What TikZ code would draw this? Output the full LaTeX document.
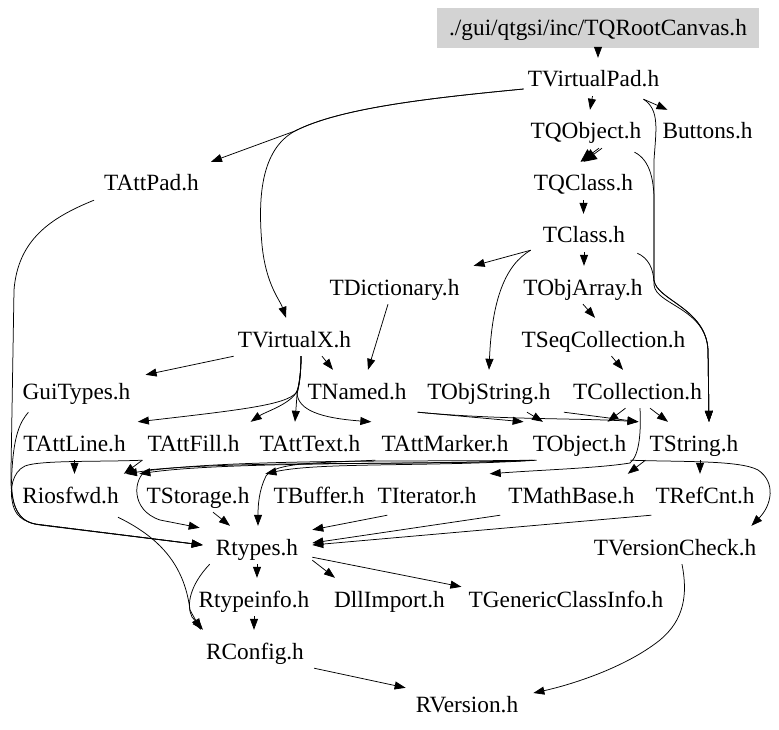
\documentclass[tikz,border=0pt]{standalone}
\usepackage{fontspec}
\setmainfont{Liberation Serif}
\usetikzlibrary{arrows.meta}
\definecolor{rootgray}{RGB}{211,211,211}
\begin{document}
\begin{tikzpicture}[x=1pt,y=-1pt,
  hf/.style={font=\fontsize{23.3}{28}\selectfont, inner xsep=4pt, inner ysep=0pt, text height=29pt, text depth=9pt, anchor=base},
  rootbox/.style={font=\fontsize{23.3}{28}\selectfont, fill=rootgray, minimum width=322pt, minimum height=40pt, inner sep=0pt, text height=16pt, text depth=0pt},
  dep/.style={draw, line width=0.75pt, -{Triangle[length=11pt,width=8pt]}},
  bigdep/.style={draw, line width=0.75pt, -{Triangle[length=13pt,width=12pt]}},
  ]
\useasboundingbox (0,0) rectangle (779,730);
\node[rootbox] (R0) at (598,28) {./gui/qtgsi/inc/TQRootCanvas.h};
\node[hf] (vp) at (593.5,87) {TVirtualPad.h};
\node[hf] (qo) at (586,139) {TQObject.h};
\node[hf] (bt) at (707.5,139) {Buttons.h};
\node[hf] (qc) at (583.5,191) {TQClass.h};
\node[hf] (ap) at (151.5,191) {TAttPad.h};
\node[hf] (cl) at (584,243) {TClass.h};
\node[hf] (dic) at (394.5,295) {TDictionary.h};
\node[hf] (oa) at (583,295) {TObjArray.h};
\node[hf] (vx) at (294.5,347) {TVirtualX.h};
\node[hf] (sc) at (603.5,347) {TSeqCollection.h};
\node[hf] (gt) at (76.5,399) {GuiTypes.h};
\node[hf] (nm) at (357,399) {TNamed.h};
\node[hf] (os) at (489,399) {TObjString.h};
\node[hf] (co) at (637.5,399) {TCollection.h};
\node[hf] (al) at (74.5,451) {TAttLine.h};
\node[hf] (af) at (193.5,451) {TAttFill.h};
\node[hf] (at) at (310,451) {TAttText.h};
\node[hf] (am) at (445,451) {TAttMarker.h};
\node[hf] (ob) at (579.5,451) {TObject.h};
\node[hf] (st) at (694,451) {TString.h};
\node[hf] (rf) at (70.5,503) {Riosfwd.h};
\node[hf] (sto) at (198,503) {TStorage.h};
\node[hf] (bu) at (319,503) {TBuffer.h};
\node[hf] (it) at (427,503) {TIterator.h};
\node[hf] (mb) at (571.5,503) {TMathBase.h};
\node[hf] (rc) at (705,503) {TRefCnt.h};
\node[hf] (rt) at (257,555) {Rtypes.h};
\node[hf] (vc) at (675,555) {TVersionCheck.h};
\node[hf] (ri) at (254,607) {Rtypeinfo.h};
\node[hf] (dl) at (389.5,607) {DllImport.h};
\node[hf] (gc) at (566,607) {TGenericClassInfo.h};
\node[hf] (rcf) at (255,659) {RConfig.h};
\node[hf] (rv) at (467,712) {RVersion.h};

% top part
\draw[dep] (R0.south) -- (R0.south |- vp.north);
\draw[dep] ([xshift=-1pt]vp.south) -- ([xshift=4pt]qo.north);
\draw[dep] ([xshift=50pt,yshift=-3pt]vp.south) -- ([xshift=-40pt]bt.north);
\draw[dep] ([yshift=-12pt]vp.west) .. controls (430,98) and (340,108) .. (295,131) -- ([xshift=8pt]ap.north east);
\draw[dep] ([yshift=-12pt]vp.west) .. controls (430,98) and (340,108) .. (295,131) .. controls (260,150) and (258,200) .. (262,245) .. controls (266,285) and (280,300) .. ([xshift=-8.5pt]vx.north);
\draw[bigdep] ([xshift=13pt]qo.south) -- ([xshift=-3pt]qc.north);
\draw[bigdep] ([xshift=16pt]qo.south) -- (qc.north);
\draw[dep] (qc.south) -- (qc.south |- cl.north);
\draw[dep] (cl.south) -- (cl.south |- oa.north);
\draw[dep] ([xshift=-8pt,yshift=2pt]cl.south west) -- ([xshift=10pt]dic.north east);
\draw[dep] ([xshift=-8pt,yshift=2pt]cl.south west) .. controls (505,265) and (492,300) .. (os.north);
\draw[dep] ([xshift=50pt,yshift=-3pt]vp.south) .. controls (660,110) and (656,130) .. (654,160) -- (654,280) .. controls (656,300) and (706,308) .. (708,350) -- ([xshift=15pt]st.north);
\draw[dep] ([xshift=-11pt,yshift=-4pt]qo.south east) .. controls (650,160) and (655,180) .. (654,210) -- (654,280) .. controls (656,300) and (706,308) .. (708,350) -- ([xshift=15pt]st.north);
\draw[dep] ([xshift=8pt,yshift=-1pt]cl.south east) .. controls (648,258) and (654,268) .. (654,285) .. controls (656,305) and (706,308) .. (708,350) -- ([xshift=15pt]st.north);
\draw[dep] (oa.south) -- ([xshift=-8.5pt]sc.north);
\draw[dep] ([xshift=8pt]sc.south) -- ([xshift=-14.5pt]co.north);
\draw[dep] ([xshift=-6.5pt]dic.south) -- ([xshift=11pt]nm.north);
\draw[dep] (vx.south west) -- ([xshift=11pt,yshift=-5pt]gt.north east);
\draw[dep] ([xshift=27.5pt]vx.south) -- ([xshift=-24pt]nm.north);
\draw[dep] ([xshift=6.5pt]vx.south) .. controls (301,375) and (299,388) .. (296,393) .. controls (285,405) and (240,410) .. ([xshift=8pt]al.north east);
\draw[dep] ([xshift=6.5pt]vx.south) .. controls (301,375) and (299,388) .. (296,393) .. controls (288,405) and (265,412) .. ([xshift=7pt]af.north east);
\draw[dep] ([xshift=6.5pt]vx.south) .. controls (301,375) and (298,388) .. (297,395) -- ([xshift=-15pt]at.north);
\draw[dep] ([xshift=6.5pt]vx.south) .. controls (301,375) and (299,388) .. (297,393) .. controls (298,410) and (320,418) .. ([xshift=-6pt]am.north west);

% into TObject / TString
\draw[dep] ([xshift=7pt,yshift=-4pt]nm.south east) -- ([xshift=-5pt]ob.north west);
\draw[dep] ([xshift=7pt,yshift=-4pt]nm.south east) .. controls (500,420) and (580,418) .. ([xshift=-7pt]st.north west);
\draw[dep] ([xshift=38pt,yshift=-4pt]os.south) -- ([xshift=-36.5pt]ob.north);
\draw[dep] ([xshift=9pt,yshift=-4pt]os.south east) -- ([xshift=-7pt]st.north west);
\draw[dep] ([xshift=-12pt]co.south) -- ([xshift=28pt]ob.north);
\draw[dep] ([xshift=12.5pt]co.south) -- ([xshift=-26pt]st.north);
\draw[dep] ([xshift=2.5pt]co.south) .. controls (641,430) and (640,455) .. (630,463) .. controls (600,468) and (540,470) .. ([xshift=9pt]it.north east);
\draw[dep] (st.south west) -- ([xshift=-11pt]mb.north east);
\draw[dep] ([xshift=6pt]st.south) -- ([xshift=-5pt]rc.north);
\draw[dep] (ob.south east) .. controls (680,462) and (740,460) .. (758,470) .. controls (776,482) and (772,505) .. ([xshift=-9pt]vc.north east);

% bundle
\draw[dep] ([xshift=2pt]ob.south west) .. controls (430,462) and (230,458) .. ([xshift=3pt]rf.north east);
\draw[dep] ([xshift=4pt]ob.south west) .. controls (430,465) and (230,461) .. ([xshift=-3pt]sto.north west);
\draw[dep] ([xshift=6pt]ob.south west) .. controls (420,466) and (250,460) .. (147,470) .. controls (133,478) and (130,510) .. (160,520) -- ([xshift=-12pt,yshift=-2pt]rt.north west);
\draw[dep] ([xshift=8pt]ob.south west) .. controls (430,467) and (320,462) .. ([xshift=-4pt]bu.north west);
\draw[dep] ([xshift=-2pt]am.south west) .. controls (320,463) and (275,462) .. (266,476) .. controls (259,490) and (258,505) .. ([xshift=1pt]rt.north);

% left side
\draw[dep] ([xshift=-1pt]af.south west) -- ([xshift=1pt]rf.north east);
\draw[dep] ([xshift=-1pt]af.south west) .. controls (100,462) and (40,460) .. (25,466) .. controls (12,472) and (10,490) .. (12,500) .. controls (14,515) and (22,522) .. (40,525) -- ([xshift=-9pt]rt.west);
\draw[dep] ([xshift=-6pt]ap.south west) .. controls (50,218) and (18,240) .. (14,290) -- (11,470) .. controls (10,500) and (15,520) .. (35,524) -- ([xshift=-9pt]rt.west);
\draw[dep] ([xshift=10pt,yshift=-4pt]gt.south west) .. controls (20,422) and (14,435) .. (12,470) .. controls (10,500) and (15,520) .. (35,524) -- ([xshift=-9pt]rt.west);
\draw[dep] (al.south) -- (al.south |- rf.north);

% lower part
\draw[dep] ([xshift=15pt]sto.south) -- ([xshift=-27pt]rt.north);
\draw[dep] ([xshift=14pt,yshift=-3pt]it.south west) -- ([xshift=10pt,yshift=-4pt]rt.north east);
\draw[dep] ([xshift=-4pt,yshift=-3pt]mb.south west) -- ([xshift=10pt,yshift=2pt]rt.east);
\draw[dep] ([yshift=-3pt]rc.south west) -- ([xshift=10pt]rt.east);
\draw[dep] ([xshift=10pt,yshift=7pt]rt.south east) -- ([xshift=-3pt,yshift=-9pt]gc.north west);
\draw[dep] ([xshift=10pt,yshift=4pt]rt.south east) -- ([xshift=5pt]dl.north west);
\draw[dep] (rt.south) -- (rt.south |- ri.north);
\draw[dep] ([xshift=-2pt]rt.south west) .. controls (190,585) and (186,605) .. (192,617) -- ([xshift=1pt]rcf.north west);
\draw[dep] ([xshift=-5pt,yshift=-5pt]rf.south east) .. controls (165,540) and (185,570) .. (190,610) -- ([xshift=-1pt]rcf.north west);
\draw[dep] (ri.south) -- (ri.south |- rcf.north);
\draw[dep] ([xshift=6pt]rcf.south east) -- ([xshift=-6pt,yshift=-5pt]rv.north west);
\draw[dep] ([xshift=7pt]vc.south) .. controls (688,595) and (684,620) .. (660,640) .. controls (625,668) and (570,685) .. ([xshift=11pt,yshift=9pt]rv.east);
\end{tikzpicture}
\end{document}
